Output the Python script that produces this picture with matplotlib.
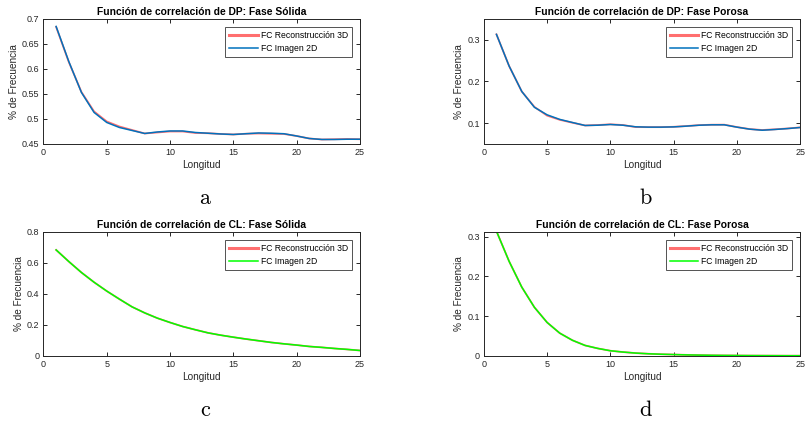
import numpy as np
import matplotlib
matplotlib.use("Agg")
import matplotlib.pyplot as plt

plt.rcParams['font.family'] = ['Liberation Sans', 'DejaVu Sans']
plt.rcParams['mathtext.fontset'] = 'cm'

# longitudes 1..25
longitud = list(range(1, 26))

# DP fase solida
dp_sol_3d = [0.684, 0.614, 0.554, 0.515, 0.495, 0.485, 0.478, 0.471, 0.473, 0.475,
             0.475, 0.472, 0.4715, 0.470, 0.469, 0.4705, 0.471, 0.4705, 0.470, 0.466,
             0.461, 0.459, 0.4595, 0.460, 0.4595]
dp_sol_2d = [0.685, 0.615, 0.553, 0.513, 0.493, 0.483, 0.477, 0.471, 0.474, 0.476,
             0.476, 0.473, 0.4715, 0.470, 0.469, 0.4705, 0.472, 0.4715, 0.4705, 0.466,
             0.461, 0.459, 0.459, 0.4595, 0.4595]

# DP fase porosa
dp_por_3d = [0.313, 0.237, 0.176, 0.139, 0.118, 0.108, 0.101, 0.0944, 0.0955, 0.0972,
             0.0955, 0.0905, 0.0904, 0.0904, 0.0912, 0.0930, 0.0952, 0.0962, 0.0963, 0.0906,
             0.0858, 0.0835, 0.0852, 0.0872, 0.0898]
dp_por_2d = [0.313, 0.237, 0.176, 0.138, 0.120, 0.109, 0.1016, 0.0944, 0.095, 0.0968,
             0.095, 0.0912, 0.0904, 0.0904, 0.091, 0.0928, 0.095, 0.096, 0.096, 0.0904,
             0.0856, 0.083, 0.0848, 0.087, 0.0896]

# CL fase solida
cl_sol_3d = [0.684, 0.609, 0.538, 0.475, 0.418, 0.366, 0.316, 0.277, 0.243, 0.215,
             0.189, 0.168, 0.148, 0.133, 0.120, 0.108, 0.097, 0.086, 0.077, 0.069,
             0.060, 0.054, 0.047, 0.041, 0.034]
cl_sol_2d = [0.684, 0.609, 0.538, 0.475, 0.418, 0.366, 0.316, 0.277, 0.243, 0.215,
             0.189, 0.168, 0.148, 0.133, 0.120, 0.108, 0.097, 0.086, 0.077, 0.069,
             0.060, 0.054, 0.047, 0.041, 0.034]

# CL fase porosa
cl_por_3d = [0.314, 0.238, 0.173, 0.122, 0.084, 0.057, 0.039, 0.026, 0.0185, 0.0126,
             0.0093, 0.0067, 0.005, 0.0038, 0.003, 0.0022, 0.0016, 0.0011, 0.0008, 0.0006,
             0.0004, 0.0003, 0.0002, 0.0001, 0.0001]
cl_por_2d = [0.314, 0.238, 0.173, 0.122, 0.084, 0.057, 0.039, 0.026, 0.0185, 0.0126,
             0.0093, 0.0067, 0.005, 0.0038, 0.003, 0.0022, 0.0016, 0.0011, 0.0008, 0.0006,
             0.0004, 0.0003, 0.0002, 0.0001, 0.0001]

titulos = ['Función de correlación de DP: Fase Sólida',
           'Función de correlación de DP: Fase Porosa',
           'Función de correlación de CL: Fase Sólida',
           'Función de correlación de CL: Fase Porosa']
letras = ['a', 'b', 'c', 'd']
ylims = [(0.45, 0.7), (0.05, 0.35), (0, 0.8), (0, 0.312)]
yticks = [[0.45, 0.5, 0.55, 0.6, 0.65, 0.7], [0.1, 0.2, 0.3],
          [0, 0.2, 0.4, 0.6, 0.8], [0, 0.1, 0.2, 0.3]]
series = [(dp_sol_3d, dp_sol_2d), (dp_por_3d, dp_por_2d),
          (cl_sol_3d, cl_sol_2d), (cl_por_3d, cl_por_2d)]
colores_2d = ['#0072BD', '#0072BD', '#00FF00', '#00FF00']

fig = plt.figure(figsize=(8.05, 4.21), dpi=100)
posiciones = [[0.054, 0.658, 0.393, 0.297],
              [0.601, 0.658, 0.393, 0.297],
              [0.054, 0.155, 0.393, 0.294],
              [0.601, 0.155, 0.393, 0.294]]
gris = '#262626'

for i in range(4):
    ax = fig.add_axes(posiciones[i])
    s3d, s2d = series[i]
    ax.plot(longitud, s3d, color='#FF6F6F', lw=1.3, label='FC Reconstrucción 3D')
    ax.plot(longitud, s2d, color=colores_2d[i], lw=1.1, label='FC Imagen 2D')
    ax.set_xlim(0, 25)
    ax.set_ylim(*ylims[i])
    ax.set_xticks([0, 5, 10, 15, 20, 25])
    ax.set_yticks(yticks[i])
    ax.yaxis.set_major_formatter(matplotlib.ticker.FormatStrFormatter('%g'))
    ax.tick_params(direction='in', length=3, width=0.7, top=True, right=True,
                   labelsize=6.5, colors=gris, pad=3)
    for sp in ax.spines.values():
        sp.set_color(gris)
        sp.set_linewidth(0.7)
    ax.set_title(titulos[i], fontsize=7.4, fontweight='bold', pad=3, color='black')
    ax.set_xlabel('Longitud', fontsize=7.2, color=gris, labelpad=2)
    ax.set_ylabel('% de Frecuencia', fontsize=7.2, color=gris, labelpad=2)
    leg = ax.legend(loc='upper right', fontsize=6.2, frameon=True, fancybox=False,
                    handlelength=3.3, borderpad=0.45, labelspacing=0.5,
                    handletextpad=0.4, borderaxespad=0.9)
    leg.get_frame().set_edgecolor(gris)
    leg.get_frame().set_linewidth(0.7)
    leg.get_lines()[0].set_linewidth(2.2)
    # letra del panel
    cx = posiciones[i][0] + posiciones[i][2] / 2
    cy = posiciones[i][1] - 0.129
    fig.text(cx + 0.005, cy, r'$\mathrm{' + letras[i] + '}$', fontsize=16,
             ha='center', va='center')

fig.savefig('out.png', dpi=100)
